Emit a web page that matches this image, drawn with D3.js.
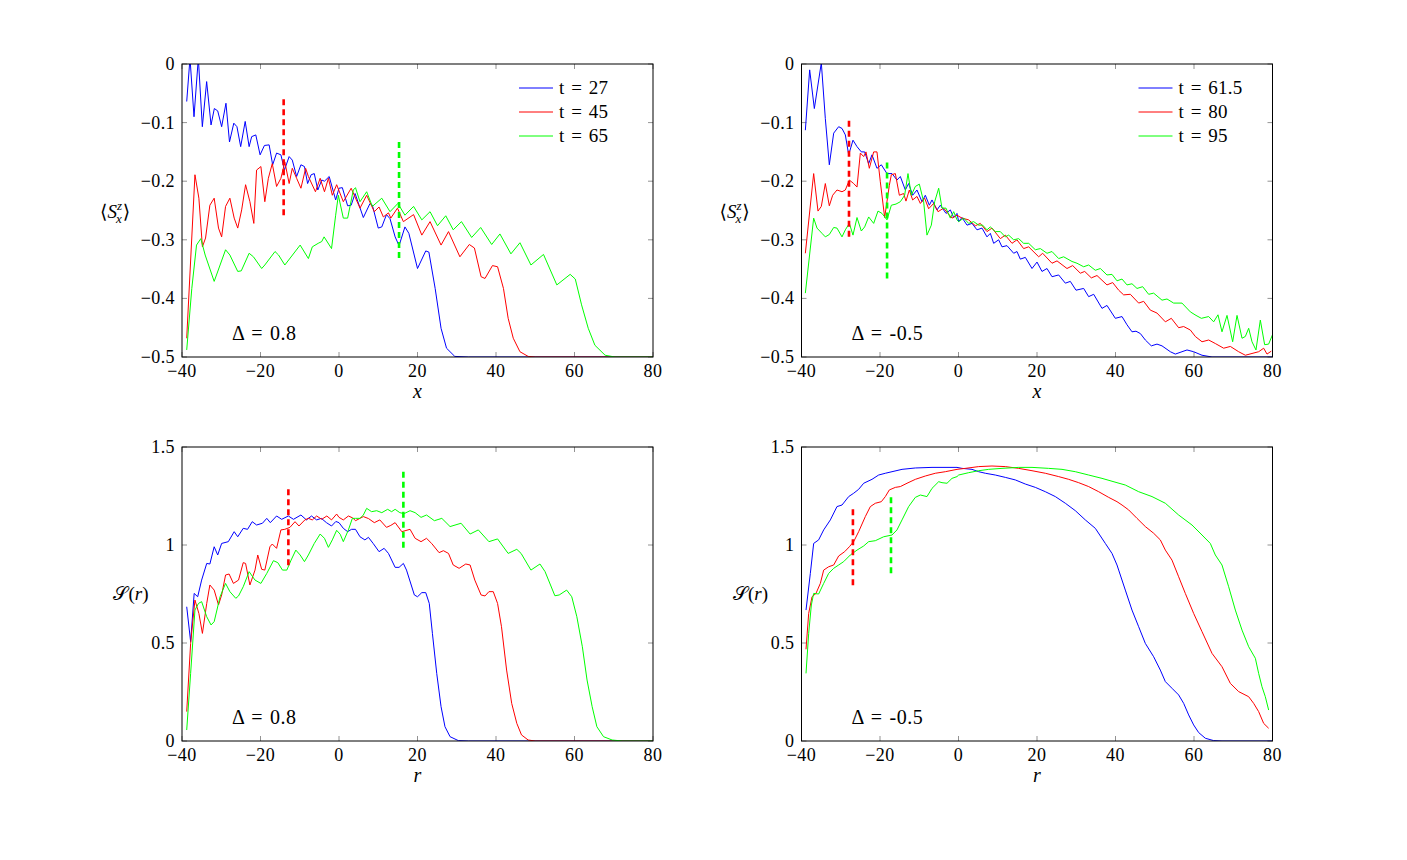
<!DOCTYPE html>
<html><head><meta charset="utf-8">
<script src="https://cdn.jsdelivr.net/npm/d3@7"></script>
<style>
body{margin:0;background:#fff}
svg text{font-family:'Liberation Serif','DejaVu Serif','Times New Roman',serif;fill:#000}
</style>
</head><body>
<svg id="c" width="1407" height="860" font-family="Liberation Serif, DejaVu Serif, serif"></svg>
<script>
// ---------- DATA ----------
const xTicks = [-40,-20,0,20,40,60,80];
const yTicksTop = [0,-0.1,-0.2,-0.3,-0.4,-0.5];
const yTicksBot = [0,0.5,1,1.5];
const legendLeft = ["t = 27","t = 45","t = 65"];
const legendRight = ["t = 61.5","t = 80","t = 95"];
const deltaLeft = "Δ = 0.8";
const deltaRight = "Δ = -0.5";

// top-left  <S_x^z>, Delta = 0.8
const tlBlue = [[-38.8,-0.064],[-37.96,0.01],[-36.94,-0.09],[-35.84,0.01],[-34.82,-0.107],[-33.72,-0.03],[-32.6,-0.104],[-31.76,-0.076],[-30.9,-0.08],[-29.9,-0.107],[-28.8,-0.067],[-27.9,-0.133],[-26.8,-0.101],[-26.0,-0.107],[-25.05,-0.141],[-23.9,-0.098],[-22.9,-0.141],[-22.25,-0.124],[-21.2,-0.121],[-20.1,-0.155],[-19.0,-0.139],[-17.8,-0.138],[-16.9,-0.172],[-15.9,-0.152],[-14.8,-0.155],[-13.9,-0.181],[-12.7,-0.158],[-11.9,-0.164],[-10.8,-0.192],[-9.7,-0.172],[-8.8,-0.175],[-8.0,-0.204],[-7.1,-0.189],[-6.3,-0.187],[-5.4,-0.215],[-4.4,-0.198],[-3.7,-0.2],[-2.5,-0.192],[-0.85,-0.232],[0.0,-0.212],[0.85,-0.211],[2.2,-0.242],[3.1,-0.241],[4.1,-0.221],[6.2,-0.262],[7.9,-0.238],[8.5,-0.241],[10.0,-0.28],[10.9,-0.278],[12.1,-0.257],[13.0,-0.264],[14.3,-0.295],[15.3,-0.31],[16.8,-0.278],[17.8,-0.289],[20.0,-0.349],[22.1,-0.319],[22.9,-0.321],[24.5,-0.383],[26.0,-0.451],[27.4,-0.485],[29.5,-0.499],[33,-0.5],[80,-0.5]];
const tlRed = [[-38.8,-0.468],[-36.7,-0.189],[-35.7,-0.229],[-34.8,-0.312],[-34.0,-0.297],[-32.9,-0.241],[-31.8,-0.229],[-30.7,-0.28],[-29.9,-0.295],[-28.9,-0.243],[-27.8,-0.229],[-26.7,-0.263],[-25.8,-0.28],[-24.8,-0.249],[-23.8,-0.206],[-22.7,-0.235],[-21.7,-0.272],[-21.0,-0.181],[-19.9,-0.175],[-18.9,-0.235],[-18.0,-0.195],[-17.0,-0.17],[-15.9,-0.209],[-14.8,-0.195],[-13.8,-0.167],[-12.7,-0.204],[-11.9,-0.178],[-10.8,-0.195],[-9.7,-0.212],[-8.5,-0.178],[-7.8,-0.192],[-6.0,-0.218],[-4.8,-0.195],[-3.7,-0.218],[-2.7,-0.195],[-1.7,-0.224],[-0.6,-0.206],[1.1,-0.235],[3.1,-0.212],[5.35,-0.246],[7.05,-0.224],[9.0,-0.252],[10.2,-0.244],[11.3,-0.261],[12.6,-0.254],[13.2,-0.263],[14.9,-0.246],[16.4,-0.269],[19.0,-0.257],[21.1,-0.292],[23.2,-0.269],[26.0,-0.309],[27.9,-0.286],[30.8,-0.329],[33.2,-0.308],[34.5,-0.314],[36.2,-0.363],[37.2,-0.366],[39.1,-0.344],[40.4,-0.346],[41.9,-0.383],[43.1,-0.434],[44.4,-0.468],[46.1,-0.491],[48.2,-0.499],[50,-0.5],[80,-0.5]];
const tlGreen = [[-38.8,-0.488],[-37.5,-0.383],[-36.3,-0.309],[-35.2,-0.298],[-34.1,-0.326],[-31.8,-0.371],[-28.9,-0.317],[-27.8,-0.326],[-25.8,-0.354],[-24.9,-0.353],[-22.9,-0.323],[-21.8,-0.329],[-19.7,-0.349],[-18.9,-0.343],[-16.3,-0.32],[-15.4,-0.326],[-13.8,-0.343],[-9.9,-0.309],[-7.8,-0.332],[-6.8,-0.312],[-5.3,-0.306],[-4.4,-0.303],[-3.8,-0.295],[-1.9,-0.315],[-0.85,-0.258],[-0.17,-0.224],[1.1,-0.263],[2.2,-0.263],[3.65,-0.215],[4.2,-0.211],[5.35,-0.235],[7.05,-0.218],[8.5,-0.243],[10.9,-0.229],[13.0,-0.252],[15.0,-0.238],[16.8,-0.258],[19.0,-0.243],[21.1,-0.266],[23.2,-0.252],[25.1,-0.276],[27.2,-0.259],[29.1,-0.283],[31.2,-0.269],[33.8,-0.296],[36.1,-0.279],[38.9,-0.308],[41.0,-0.29],[43.8,-0.324],[46.1,-0.305],[48.9,-0.343],[52.1,-0.325],[55.5,-0.377],[58.9,-0.359],[60.2,-0.367],[61.8,-0.411],[63.5,-0.451],[65.2,-0.48],[67.8,-0.497],[70.3,-0.5],[80,-0.5]];

// top-right <S_x^z>, Delta = -0.5
const trBlue = [[-39.02,-0.113],[-37.92,-0.01],[-36.73,-0.076],[-34.95,0.002],[-33.93,-0.093],[-32.91,-0.172],[-31.8,-0.118],[-30.53,-0.107],[-29.68,-0.11],[-28.83,-0.121],[-27.98,-0.155],[-26.88,-0.13],[-25.86,-0.141],[-24.76,-0.15],[-23.91,-0.15],[-22.89,-0.17],[-22.04,-0.155],[-20.77,-0.178],[-19.66,-0.172],[-18.22,-0.187],[-16.94,-0.187],[-15.67,-0.198],[-14.82,-0.192],[-13.55,-0.215],[-12.7,-0.204],[-11.68,-0.224],[-10.58,-0.215],[-9.3,-0.235],[-8.45,-0.224],[-7.43,-0.241],[-6.75,-0.232],[-5.48,-0.249],[-4.63,-0.241],[-3.18,-0.255],[-2.08,-0.249],[-1.23,-0.262],[-0.38,-0.255],[0.04,-0.269],[0.89,-0.262],[2.17,-0.275],[3.44,-0.272],[4.71,-0.283],[5.99,-0.28],[7.26,-0.295],[8.11,-0.289],[8.96,-0.306],[10.23,-0.3],[11.08,-0.312],[12.36,-0.31],[14.06,-0.323],[14.9,-0.32],[15.75,-0.333],[17.03,-0.33],[18.73,-0.349],[20.0,-0.338],[21.27,-0.354],[22.55,-0.349],[23.82,-0.363],[25.52,-0.36],[27.22,-0.374],[28.49,-0.371],[29.94,-0.386],[31.89,-0.383],[33.16,-0.397],[34.44,-0.393],[36.56,-0.417],[37.83,-0.412],[39.96,-0.434],[41.66,-0.431],[42.93,-0.445],[44.2,-0.457],[45.22,-0.456],[46.33,-0.46],[47.6,-0.471],[49.13,-0.481],[50.57,-0.478],[51.85,-0.481],[53.97,-0.491],[55.24,-0.495],[56.94,-0.491],[58.22,-0.488],[59.91,-0.491],[62.04,-0.497],[64.59,-0.5],[80,-0.5]];
const trRed = [[-39.02,-0.323],[-36.9,-0.187],[-35.8,-0.251],[-34.95,-0.243],[-33.93,-0.204],[-32.91,-0.242],[-32.06,-0.224],[-30.96,-0.215],[-29.68,-0.218],[-28.83,-0.215],[-27.81,-0.198],[-26.71,-0.204],[-25.86,-0.21],[-25.01,-0.152],[-24.16,-0.158],[-23.57,-0.15],[-22.72,-0.178],[-21.61,-0.15],[-20.77,-0.15],[-19.92,-0.201],[-18.81,-0.262],[-17.62,-0.207],[-17.11,-0.189],[-16.09,-0.187],[-15.07,-0.224],[-13.97,-0.221],[-13.38,-0.234],[-12.53,-0.215],[-11.68,-0.232],[-10.58,-0.226],[-9.72,-0.238],[-8.62,-0.229],[-7.6,-0.247],[-6.33,-0.238],[-5.22,-0.252],[-3.78,-0.246],[-2.68,-0.255],[-1.66,-0.263],[-0.38,-0.258],[0.89,-0.263],[2.59,-0.266],[4.29,-0.276],[5.56,-0.272],[7.26,-0.286],[8.53,-0.28],[10.66,-0.298],[11.93,-0.292],[13.63,-0.306],[14.9,-0.3],[16.6,-0.315],[17.88,-0.312],[20.43,-0.329],[21.44,-0.323],[23.82,-0.34],[25.1,-0.336],[27.64,-0.349],[29.09,-0.344],[31.04,-0.357],[32.15,-0.354],[33.84,-0.365],[35.29,-0.361],[37.83,-0.377],[39.28,-0.373],[40.81,-0.386],[42.08,-0.394],[43.78,-0.393],[45.9,-0.408],[47.18,-0.405],[48.87,-0.42],[50.57,-0.425],[52.7,-0.44],[54.22,-0.434],[56.09,-0.45],[57.37,-0.448],[59.07,-0.454],[60.34,-0.465],[62.04,-0.474],[63.74,-0.471],[65.43,-0.477],[67.56,-0.485],[69.26,-0.482],[71.38,-0.491],[73.08,-0.497],[74.78,-0.494],[76.47,-0.491],[77.75,-0.485],[78.6,-0.495],[79.7,-0.49]];
const trGreen = [[-39.02,-0.391],[-36.9,-0.263],[-36.05,-0.28],[-34.78,-0.289],[-33.93,-0.295],[-32.91,-0.291],[-31.8,-0.279],[-30.96,-0.28],[-29.68,-0.295],[-28.83,-0.283],[-27.81,-0.272],[-26.88,-0.292],[-25.86,-0.262],[-24.76,-0.285],[-23.91,-0.278],[-22.89,-0.261],[-21.61,-0.272],[-20.51,-0.251],[-19.49,-0.255],[-18.22,-0.266],[-17.11,-0.241],[-15.92,-0.239],[-14.82,-0.235],[-13.72,-0.224],[-12.87,-0.187],[-12.02,-0.224],[-11.0,-0.209],[-9.98,-0.205],[-8.88,-0.235],[-8.03,-0.292],[-6.92,-0.275],[-6.07,-0.235],[-5.05,-0.212],[-4.2,-0.246],[-3.18,-0.246],[-2.08,-0.263],[-1.23,-0.252],[-0.38,-0.266],[0.04,-0.269],[1.32,-0.263],[2.59,-0.272],[3.86,-0.269],[5.14,-0.275],[6.16,-0.275],[7.26,-0.283],[8.11,-0.278],[9.38,-0.286],[10.66,-0.286],[11.93,-0.295],[12.78,-0.292],[14.06,-0.3],[15.33,-0.298],[16.6,-0.306],[17.88,-0.306],[19.58,-0.317],[20.85,-0.315],[22.55,-0.323],[23.82,-0.32],[25.52,-0.332],[26.79,-0.329],[28.92,-0.337],[30.19,-0.34],[31.89,-0.346],[33.16,-0.343],[34.86,-0.352],[36.14,-0.349],[37.83,-0.36],[39.11,-0.359],[40.38,-0.37],[41.66,-0.367],[42.93,-0.377],[44.2,-0.375],[45.48,-0.383],[46.92,-0.38],[48.45,-0.393],[49.72,-0.391],[51.85,-0.403],[53.12,-0.401],[54.82,-0.408],[56.94,-0.408],[59.07,-0.423],[60.51,-0.429],[61.87,-0.434],[63.74,-0.431],[65.01,-0.44],[66.11,-0.428],[67.13,-0.457],[68.41,-0.429],[69.85,-0.474],[70.96,-0.429],[72.23,-0.468],[73.08,-0.465],[73.93,-0.451],[74.78,-0.474],[75.79,-0.488],[76.9,-0.437],[78.0,-0.479],[79.02,-0.478],[80,-0.462]];

// bottom-left S(r), Delta = 0.8
const blBlue = [[-38.8,0.685],[-37.8,0.507],[-36.9,0.753],[-36.0,0.736],[-35.0,0.821],[-33.7,0.906],[-32.9,0.903],[-31.8,0.991],[-30.9,0.949],[-29.9,1.008],[-28.2,1.017],[-26.7,1.068],[-25.8,1.042],[-24.4,1.085],[-23.3,1.08],[-22.1,1.119],[-21.0,1.102],[-19.5,1.111],[-18.4,1.136],[-17.5,1.114],[-15.9,1.148],[-14.6,1.131],[-12.9,1.148],[-11.6,1.131],[-9.7,1.153],[-8.3,1.128],[-7.0,1.148],[-5.7,1.128],[-4.5,1.136],[-3.2,1.114],[-1.9,1.097],[-0.8,1.12],[0.0,1.114],[1.1,1.085],[2.2,1.068],[3.2,1.08],[4.2,1.08],[5.35,1.042],[6.6,1.026],[7.5,1.039],[8.7,1.008],[10.2,0.966],[11.5,0.983],[12.6,0.957],[14.3,0.886],[15.3,0.886],[16.4,0.906],[17.2,0.872],[19.2,0.745],[20.0,0.736],[21.1,0.757],[22.1,0.757],[23.0,0.702],[23.8,0.549],[24.9,0.345],[26.0,0.175],[27.0,0.073],[28.3,0.022],[30.4,0.002],[33,0],[80,0]];
const blRed = [[-38.8,0.15],[-37.8,0.498],[-36.7,0.719],[-35.7,0.651],[-34.8,0.549],[-33.7,0.702],[-32.9,0.796],[-31.8,0.77],[-30.7,0.694],[-29.9,0.745],[-28.9,0.847],[-28.0,0.852],[-26.9,0.804],[-25.6,0.821],[-24.4,0.91],[-23.8,0.906],[-22.7,0.796],[-21.4,0.872],[-20.7,0.949],[-19.7,0.876],[-18.9,0.872],[-17.6,0.991],[-17.0,1.005],[-15.9,0.983],[-14.8,1.077],[-13.8,1.08],[-12.5,1.09],[-11.2,1.119],[-10.2,1.097],[-8.7,1.128],[-7.8,1.136],[-6.8,1.128],[-5.7,1.148],[-4.4,1.131],[-3.1,1.148],[-1.9,1.128],[-0.6,1.158],[0.0,1.141],[1.1,1.128],[2.4,1.148],[3.5,1.138],[4.2,1.124],[6.2,1.145],[7.5,1.135],[9.0,1.114],[10.4,1.128],[12.1,1.09],[13.2,1.1],[14.3,1.114],[16.0,1.068],[18.1,1.08],[19.4,1.034],[20.9,1.017],[22.3,1.034],[23.6,1.008],[25.5,0.961],[26.6,0.971],[27.9,0.957],[29.1,0.898],[30.6,0.881],[32.3,0.903],[33.4,0.898],[34.6,0.821],[36.2,0.745],[37.2,0.74],[38.2,0.762],[39.3,0.762],[40.4,0.702],[41.4,0.583],[42.7,0.362],[44.0,0.192],[45.3,0.09],[46.5,0.031],[48.2,0.005],[50,0],[80,0]];
const blGreen = [[-38.8,0.056],[-37.8,0.345],[-36.7,0.668],[-35.8,0.702],[-35.0,0.711],[-33.7,0.634],[-32.6,0.592],[-31.8,0.609],[-30.3,0.736],[-28.9,0.804],[-27.8,0.762],[-26.3,0.728],[-25.6,0.74],[-24.4,0.787],[-22.9,0.864],[-21.4,0.821],[-19.9,0.804],[-18.4,0.855],[-16.7,0.92],[-15.6,0.91],[-14.4,0.872],[-13.3,0.872],[-12.2,0.923],[-11.0,0.974],[-9.9,0.949],[-8.8,0.915],[-7.8,0.949],[-6.3,1.008],[-4.8,1.056],[-3.7,1.034],[-2.7,0.988],[-1.7,1.026],[-0.6,1.075],[0.3,1.055],[1.1,1.017],[2.4,1.077],[3.4,1.136],[4.2,1.136],[5.35,1.136],[6.2,1.153],[7.05,1.187],[8.3,1.17],[9.6,1.175],[10.9,1.165],[12.4,1.182],[13.4,1.17],[14.3,1.182],[15.5,1.165],[16.6,1.16],[18.1,1.175],[19.4,1.165],[20.9,1.141],[22.3,1.153],[24.3,1.124],[26.2,1.136],[28.3,1.094],[31.1,1.111],[33.4,1.056],[35.5,1.077],[38.2,1.017],[40.4,1.031],[43.1,0.957],[45.3,0.978],[46.4,0.957],[48.9,0.872],[51.2,0.903],[52.5,0.864],[55.0,0.741],[56.1,0.745],[58.0,0.77],[59.3,0.736],[60.6,0.634],[62.0,0.481],[63.2,0.311],[64.5,0.175],[65.7,0.073],[67.4,0.022],[69.6,0.005],[72.2,0],[80,0]];

// bottom-right S(r), Delta = -0.5
const brBlue = [[-38.85,0.668],[-37.75,0.855],[-36.9,1.008],[-35.63,1.026],[-34.35,1.077],[-32.65,1.128],[-30.96,1.196],[-29.68,1.204],[-27.98,1.247],[-26.71,1.264],[-25.44,1.284],[-24.16,1.315],[-22.04,1.335],[-20.34,1.357],[-18.64,1.366],[-16.94,1.374],[-14.39,1.386],[-10.99,1.393],[-6.75,1.396],[-0.38,1.396],[0.89,1.391],[3.44,1.386],[5.14,1.374],[6.84,1.366],[9.38,1.357],[11.93,1.345],[14.48,1.332],[17.03,1.311],[19.58,1.294],[22.12,1.272],[24.67,1.247],[27.22,1.213],[29.77,1.175],[32.31,1.128],[34.86,1.085],[37.41,1.008],[39.11,0.957],[40.38,0.898],[40.81,0.872],[42.5,0.77],[44.2,0.668],[45.9,0.583],[47.6,0.498],[49.72,0.43],[51.42,0.362],[52.7,0.303],[54.39,0.269],[56.09,0.235],[57.37,0.192],[58.64,0.133],[59.91,0.082],[61.19,0.043],[62.89,0.014],[65.01,0.002],[67.13,0],[80,0]];
const brRed = [[-38.85,0.468],[-38.17,0.651],[-37.32,0.736],[-36.31,0.753],[-35.2,0.804],[-34.35,0.872],[-33.08,0.889],[-31.8,0.898],[-30.53,0.944],[-29.0,0.966],[-27.81,0.991],[-26.71,1.017],[-25.44,1.068],[-23.74,1.145],[-22.46,1.196],[-21.19,1.213],[-19.66,1.221],[-18.64,1.247],[-17.62,1.281],[-16.09,1.294],[-14.82,1.298],[-13.12,1.315],[-10.99,1.335],[-8.45,1.352],[-5.9,1.366],[-3.35,1.374],[-0.38,1.386],[1.74,1.391],[5.14,1.4],[8.53,1.403],[11.93,1.4],[15.33,1.391],[18.73,1.379],[22.12,1.366],[25.52,1.349],[28.07,1.335],[30.62,1.318],[33.16,1.298],[35.71,1.272],[38.26,1.243],[40.38,1.221],[41.66,1.204],[43.35,1.179],[45.48,1.136],[47.6,1.094],[49.72,1.06],[51.42,1.026],[52.7,0.974],[54.39,0.923],[56.09,0.838],[57.79,0.753],[59.91,0.651],[62.04,0.558],[64.59,0.447],[67.13,0.379],[69.26,0.294],[71.38,0.252],[73.93,0.226],[75.2,0.192],[76.47,0.15],[77.75,0.09],[79.02,0.065]];
const brGreen = [[-38.85,0.345],[-38.17,0.549],[-37.49,0.694],[-36.9,0.753],[-35.63,0.75],[-34.35,0.804],[-33.08,0.855],[-31.8,0.881],[-30.53,0.898],[-29.26,0.915],[-27.56,0.949],[-25.86,0.974],[-24.16,0.995],[-22.89,1.017],[-21.19,1.022],[-19.07,1.042],[-16.94,1.051],[-15.67,1.077],[-14.39,1.128],[-12.7,1.196],[-11.0,1.243],[-9.72,1.255],[-8.03,1.247],[-6.75,1.289],[-5.05,1.323],[-4.2,1.318],[-2.93,1.315],[-1.66,1.34],[-0.38,1.349],[0.04,1.357],[2.59,1.369],[5.14,1.379],[7.69,1.386],[11.08,1.391],[15.33,1.396],[18.73,1.396],[22.97,1.391],[26.37,1.386],[29.77,1.374],[33.16,1.357],[36.56,1.34],[40.38,1.318],[42.5,1.306],[45.9,1.272],[49.3,1.247],[52.7,1.213],[56.09,1.153],[59.49,1.102],[62.04,1.051],[64.16,1.008],[65.43,0.949],[67.13,0.898],[68.83,0.787],[70.53,0.668],[72.23,0.566],[73.93,0.481],[75.63,0.422],[76.47,0.345],[77.32,0.277],[78.17,0.226],[79.02,0.158]];

// dashed markers: [x, y0, y1]
const tlRedDash = [-14.1,-0.06,-0.263], tlGreenDash = [15.3,-0.133,-0.334];
const trRedDash = [-27.9,-0.097,-0.296], trGreenDash = [-18.2,-0.168,-0.369];
const blRedDash = [-12.9,1.285,0.885], blGreenDash = [16.4,1.374,0.972];
const brRedDash = [-26.9,1.182,0.787], brGreenDash = [-17.2,1.243,0.847];

// ---------- DRAW ----------
const FONT = "'Liberation Serif','DejaVu Serif',serif";
const C = {blue:"#0000ff", red:"#ff0000", green:"#00ff00"};
const svg = d3.select("#c");
const fmtTop = v => v===0 ? "0" : "\u2212"+Math.abs(v);
const fmtX = v => v<0 ? "\u2212"+Math.abs(v) : String(v);
const fmtBot = v => String(v);

const panels = [
 {id:"tl", l:182, r:653, t:64, b:357, yd:[-0.5,0], yt:yTicksTop, yf:fmtTop, kind:"S", xl:"x",
  s:[[tlBlue,C.blue],[tlRed,C.red],[tlGreen,C.green]], d:[[tlRedDash,C.red],[tlGreenDash,C.green]], leg:legendLeft, delta:deltaLeft},
 {id:"tr", l:801.5, r:1272.5, t:64, b:357, yd:[-0.5,0], yt:yTicksTop, yf:fmtTop, kind:"S", xl:"x",
  s:[[trBlue,C.blue],[trRed,C.red],[trGreen,C.green]], d:[[trRedDash,C.red],[trGreenDash,C.green]], leg:legendRight, delta:deltaRight},
 {id:"bl", l:182, r:653, t:447, b:741, yd:[0,1.5], yt:yTicksBot, yf:fmtBot, kind:"R", xl:"r",
  s:[[blBlue,C.blue],[blRed,C.red],[blGreen,C.green]], d:[[blRedDash,C.red],[blGreenDash,C.green]], leg:null, delta:deltaLeft},
 {id:"br", l:801.5, r:1272.5, t:447, b:741, yd:[0,1.5], yt:yTicksBot, yf:fmtBot, kind:"R", xl:"r",
  s:[[brBlue,C.blue],[brRed,C.red],[brGreen,C.green]], d:[[brRedDash,C.red],[brGreenDash,C.green]], leg:null, delta:deltaRight}
];

function txt(g, x, y, size) {
  return g.append("text").attr("x",x).attr("y",y).attr("font-size",size)
    .attr("font-family",FONT).style("font-family",FONT);
}

panels.forEach(p => {
  const x = d3.scaleLinear().domain([-40,80]).range([p.l,p.r]);
  const y = d3.scaleLinear().domain(p.yd).range([p.b,p.t]);
  const g = svg.append("g");
  g.append("clipPath").attr("id","clip-"+p.id).append("rect")
    .attr("x",p.l).attr("y",p.t).attr("width",p.r-p.l).attr("height",p.b-p.t);

  // ticks (inside, all four sides)
  const tk = g.append("g").attr("stroke","#777").attr("stroke-width",0.8);
  xTicks.forEach(v => {
    const px = x(v);
    tk.append("line").attr("x1",px).attr("x2",px).attr("y1",p.b).attr("y2",p.b-5);
    tk.append("line").attr("x1",px).attr("x2",px).attr("y1",p.t).attr("y2",p.t+5);
  });
  p.yt.forEach(v => {
    const py = y(v);
    tk.append("line").attr("x1",p.l).attr("x2",p.l+5).attr("y1",py).attr("y2",py);
    tk.append("line").attr("x1",p.r).attr("x2",p.r-5).attr("y1",py).attr("y2",py);
  });

  // series
  const line = d3.line().x(d=>x(d[0])).y(d=>y(d[1]));
  const sg = g.append("g").attr("clip-path","url(#clip-"+p.id+")");
  p.s.forEach(([data,col]) => {
    sg.append("path").datum(data).attr("d",line).attr("fill","none")
      .attr("stroke",col).attr("stroke-width",1).attr("stroke-linejoin","round");
  });
  // dashed markers
  p.d.forEach(([dd,col]) => {
    g.append("line").attr("x1",x(dd[0])).attr("x2",x(dd[0])).attr("y1",y(dd[1])).attr("y2",y(dd[2]))
      .attr("stroke",col).attr("stroke-width",2.6).attr("stroke-dasharray","6,4");
  });

  // frame
  g.append("rect").attr("x",p.l).attr("y",p.t).attr("width",p.r-p.l).attr("height",p.b-p.t)
    .attr("fill","none").attr("stroke","#000").attr("stroke-width",1);

  // tick labels
  xTicks.forEach(v => {
    txt(g, x(v), p.b+20, 18).attr("text-anchor","middle").attr("letter-spacing",0.4).text(fmtX(v));
  });
  p.yt.forEach(v => {
    txt(g, p.l-7, y(v)+6, 18).attr("text-anchor","end").attr("letter-spacing",0.4).text(p.yf(v));
  });

  // x label
  txt(g, (p.l+p.r)/2, p.b+41, 20).attr("text-anchor","middle").attr("font-style","italic").text(p.xl);

  // y label
  const cy = (p.t+p.b)/2;
  if (p.kind==="S") {
    const t = txt(g, p.l-82, cy+7, 19);
    t.append("tspan").text("\u27E8");
    t.append("tspan").attr("font-style","italic").text("S");
    t.append("tspan").attr("font-size",13).attr("font-style","italic").attr("dy",-8).text("z");
    t.append("tspan").attr("font-size",13).attr("font-style","italic").attr("dx",-6).attr("dy",13).text("x");
    t.append("tspan").attr("dy",-5).attr("dx",1).text("\u27E9");
  } else {
    const t = txt(g, p.l-51, cy+6, 19).attr("text-anchor","middle");
    t.append("tspan").text("\uD835\uDCAE");
    t.append("tspan").text("(");
    t.append("tspan").attr("font-style","italic").text("r");
    t.append("tspan").text(")");
  }

  // delta annotation
  txt(g, p.l+50, p.b-17, 20).attr("word-spacing",1.5).attr("letter-spacing",0.5).text(p.delta);

  // legend
  if (p.leg) {
    const cols = [C.blue,C.red,C.green];
    p.leg.forEach((lab,i) => {
      const ly = 88 + i*24;
      g.append("line").attr("x1",p.r-134).attr("x2",p.r-100).attr("y1",ly).attr("y2",ly)
        .attr("stroke",cols[i]).attr("stroke-width",1);
      txt(g, p.r-94, ly+6, 19).attr("word-spacing",1.5).attr("letter-spacing",0.3).text(lab);
    });
  }
});
</script>
</body></html>
